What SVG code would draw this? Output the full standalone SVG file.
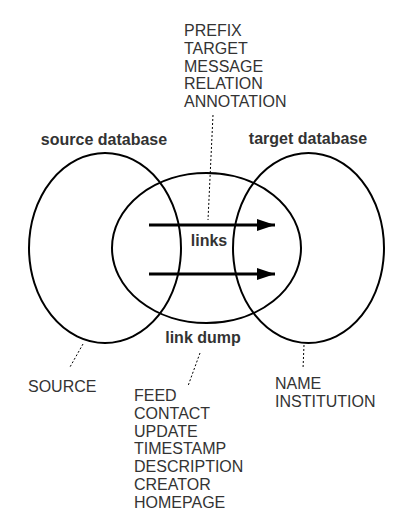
<svg xmlns="http://www.w3.org/2000/svg" width="416" height="529" viewBox="0 0 416 529">
<style>
.bg{fill:#fff}
.set{fill:none;stroke:#000;stroke-width:2}
.arrow{stroke:#000;stroke-width:3;fill:none}
.dot{stroke:#000;stroke-width:1;stroke-dasharray:2,2;fill:none}
.lbl{font-family:"Liberation Sans",Arial,sans-serif;font-size:16px;font-weight:bold;fill:#333}
.attr{font-family:"Liberation Sans",Arial,sans-serif;font-size:16px;fill:#333}
</style>
<defs>
<marker id="ah" markerUnits="userSpaceOnUse" markerWidth="20" markerHeight="14" refX="18" refY="7" orient="auto">
<polygon points="0,1 18,7 0,13" fill="#000"/>
</marker>
</defs>
<rect class="bg" width="416" height="529"/>
<g id="source-database">
<ellipse class="set" cx="105" cy="248" rx="76" ry="95"/>
<text class="lbl" x="104" y="145" text-anchor="middle">source database</text>
</g>
<g id="target-database">
<ellipse class="set" cx="308.5" cy="248" rx="75.5" ry="95"/>
<text class="lbl" x="308" y="144" text-anchor="middle">target database</text>
</g>
<g id="link-dump">
<ellipse class="set" cx="206.5" cy="248" rx="94.5" ry="75"/>
<text class="lbl" x="203" y="343" text-anchor="middle">link dump</text>
</g>
<g id="links">
<text class="lbl" x="209" y="246" text-anchor="middle">links</text>
</g>
<g id="link-attributes">
<text class="attr" x="184" y="36">PREFIX</text>
<text class="attr" x="184" y="54">TARGET</text>
<text class="attr" x="184" y="72">MESSAGE</text>
<text class="attr" x="184" y="89">RELATION</text>
<text class="attr" x="184" y="107">ANNOTATION</text>
</g>
<g id="source-attributes">
<text class="attr" x="28" y="392">SOURCE</text>
</g>
<g id="dump-attributes">
<text class="attr" x="134" y="401">FEED</text>
<text class="attr" x="134" y="419">CONTACT</text>
<text class="attr" x="134" y="437">UPDATE</text>
<text class="attr" x="134" y="454">TIMESTAMP</text>
<text class="attr" x="134" y="472">DESCRIPTION</text>
<text class="attr" x="134" y="490">CREATOR</text>
<text class="attr" x="134" y="508">HOMEPAGE</text>
</g>
<g id="target-attributes">
<text class="attr" x="275" y="389">NAME</text>
<text class="attr" x="275" y="407">INSTITUTION</text>
</g>
<g id="connectors">
<line class="arrow" x1="149" y1="225" x2="275" y2="225" marker-end="url(#ah)"/>
<line class="arrow" x1="149" y1="274" x2="275" y2="274" marker-end="url(#ah)"/>
<line class="dot" x1="213" y1="115" x2="208" y2="220"/>
<line class="dot" x1="83" y1="344" x2="70" y2="367"/>
<line class="dot" x1="200" y1="353" x2="188" y2="386"/>
<line class="dot" x1="304" y1="345" x2="303" y2="369"/>
</g>
</svg>
